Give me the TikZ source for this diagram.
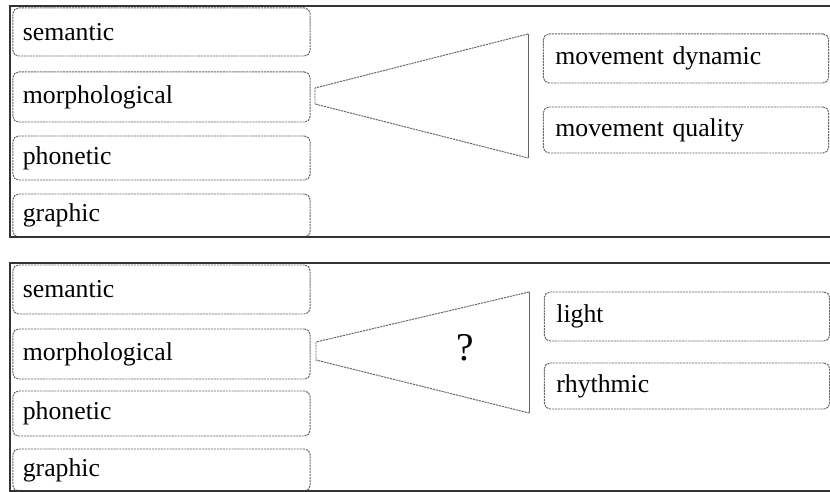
\documentclass[tikz,border=0pt]{standalone}
\usepackage{fontspec}
\setmainfont{Liberation Serif}
\begin{document}
\begin{tikzpicture}[x=0.025cm,y=-0.025cm,
	lbox/.style={rectangle,rounded corners=4pt,draw=black!60,dash pattern=on 1.5pt off 0.6pt,line width=0.7pt,text width=6.93cm,inner xsep=0.25cm,align=left,font=\fontsize{18.3}{21}\selectfont},
	rbox/.style={lbox,text width=6.53cm,inner xsep=0.3cm},
	frame/.style={draw=black!80,line width=1pt},
	funnel/.style={draw=black!60,line width=0.7pt}]
	\useasboundingbox (0,0) rectangle (830,492);
	% top panel
	\node (semA) at (161.5,32) [lbox,minimum height=1.2cm] {semantic};
	\node (morA) at (161.5,97) [lbox,minimum height=1.25cm] {morphological};
	\node (phoA) at (161.5,158) [lbox,minimum height=1.1cm] {phonetic};
	\node (graA) at (161.5,215.5) [lbox,minimum height=1.075cm] {graphic};
	\node (dynA) at (686,58.5) [rbox,minimum height=1.225cm] {movement dynamic};
	\node (quaA) at (686,130) [rbox,minimum height=1.15cm] {movement quality};
	\coordinate (tipA1) at (315,88);
	\coordinate (tipA2) at (315,104);
	\coordinate (topA) at (528,34);
	\coordinate (botA) at (528,158);
	\draw[funnel,dash pattern=on 1.5pt off 0.6pt] (topA) -- (tipA1) -- (tipA2) -- (botA);
	\draw[funnel] (topA) -- (botA);
	\draw[frame] (830,6) -- (10,6) -- (10,237) -- (830,237);
	
	% bottom panel
	\node (semB) at (161.5,289.5) [lbox,minimum height=1.225cm] {semantic};
	\node (morB) at (161.5,354) [lbox,minimum height=1.25cm] {morphological};
	\node (phoB) at (161.5,413.5) [lbox,minimum height=1.125cm] {phonetic};
	\node (graB) at (161.5,470) [lbox,minimum height=1.05cm] {graphic};
	\node (ligB) at (687,316.5) [rbox,minimum height=1.225cm] {light};
	\node (rhyB) at (687,386) [rbox,minimum height=1.15cm] {rhythmic};
	\coordinate (tipB1) at (316,342);
	\coordinate (tipB2) at (316,360);
	\coordinate (topB) at (529,292);
	\coordinate (botB) at (529,413);
	\draw[funnel,dash pattern=on 1.5pt off 0.6pt] (topB) -- (tipB1) -- (tipB2) -- (botB);
	\draw[funnel] (topB) -- (botB);
	\node (qmark) at (465,348) {\fontsize{28}{30}\selectfont ?};
	\draw[frame] (830,263) -- (10,263) -- (10,491) -- (830,491);
\end{tikzpicture}
\end{document}
